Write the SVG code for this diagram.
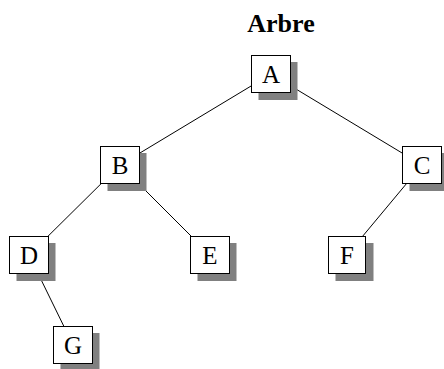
<svg xmlns="http://www.w3.org/2000/svg" width="444" height="369" viewBox="0 0 444 369">
  <style>
    .edge { stroke: #000; stroke-width: 1; fill: none; }
    .shadow { fill: #808080; }
    .box { fill: #fff; stroke: #000; stroke-width: 1; }
    .label { font-family: "Liberation Serif", "Times New Roman", serif; font-size: 25px; text-anchor: middle; fill: #000; }
    .title { font-family: "Liberation Serif", "Times New Roman", serif; font-size: 26px; font-weight: bold; text-anchor: middle; fill: #000; }
  </style>

  <text class="title" x="281" y="32">Arbre</text>

  <!-- tree edges, centre to centre, drawn beneath the nodes -->
  <g id="edges">
    <line class="edge" x1="271" y1="74" x2="120" y2="165"/>
    <line class="edge" x1="271" y1="74" x2="422" y2="165"/>
    <line class="edge" x1="120" y1="165" x2="29" y2="255"/>
    <line class="edge" x1="120" y1="165" x2="210" y2="255"/>
    <line class="edge" x1="422" y1="165" x2="347" y2="255"/>
    <line class="edge" x1="29" y1="255" x2="73" y2="345"/>
  </g>

  <g id="node-A">
    <rect class="shadow" x="258.5" y="62" width="39" height="38"/>
    <rect class="box" x="251.5" y="55.5" width="39" height="37"/>
    <text class="label" x="271" y="83">A</text>
  </g>
  <g id="node-B">
    <rect class="shadow" x="107.5" y="153" width="39" height="38"/>
    <rect class="box" x="100.5" y="146.5" width="39" height="37"/>
    <text class="label" x="120" y="174">B</text>
  </g>
  <g id="node-C">
    <rect class="shadow" x="409.5" y="153" width="39" height="38"/>
    <rect class="box" x="402.5" y="146.5" width="39" height="37"/>
    <text class="label" x="422" y="174">C</text>
  </g>
  <g id="node-D">
    <rect class="shadow" x="16.5" y="243" width="39" height="38"/>
    <rect class="box" x="9.5" y="236.5" width="39" height="37"/>
    <text class="label" x="29" y="264">D</text>
  </g>
  <g id="node-E">
    <rect class="shadow" x="197.5" y="243" width="39" height="38"/>
    <rect class="box" x="190.5" y="236.5" width="39" height="37"/>
    <text class="label" x="210" y="264">E</text>
  </g>
  <g id="node-F">
    <rect class="shadow" x="335.5" y="243" width="38" height="38"/>
    <rect class="box" x="328.5" y="236.5" width="37" height="37"/>
    <text class="label" x="347" y="264">F</text>
  </g>
  <g id="node-G">
    <rect class="shadow" x="60.5" y="333" width="39" height="38"/>
    <rect class="box" x="53.5" y="326.5" width="39" height="37"/>
    <text class="label" x="73" y="354">G</text>
  </g>
</svg>
